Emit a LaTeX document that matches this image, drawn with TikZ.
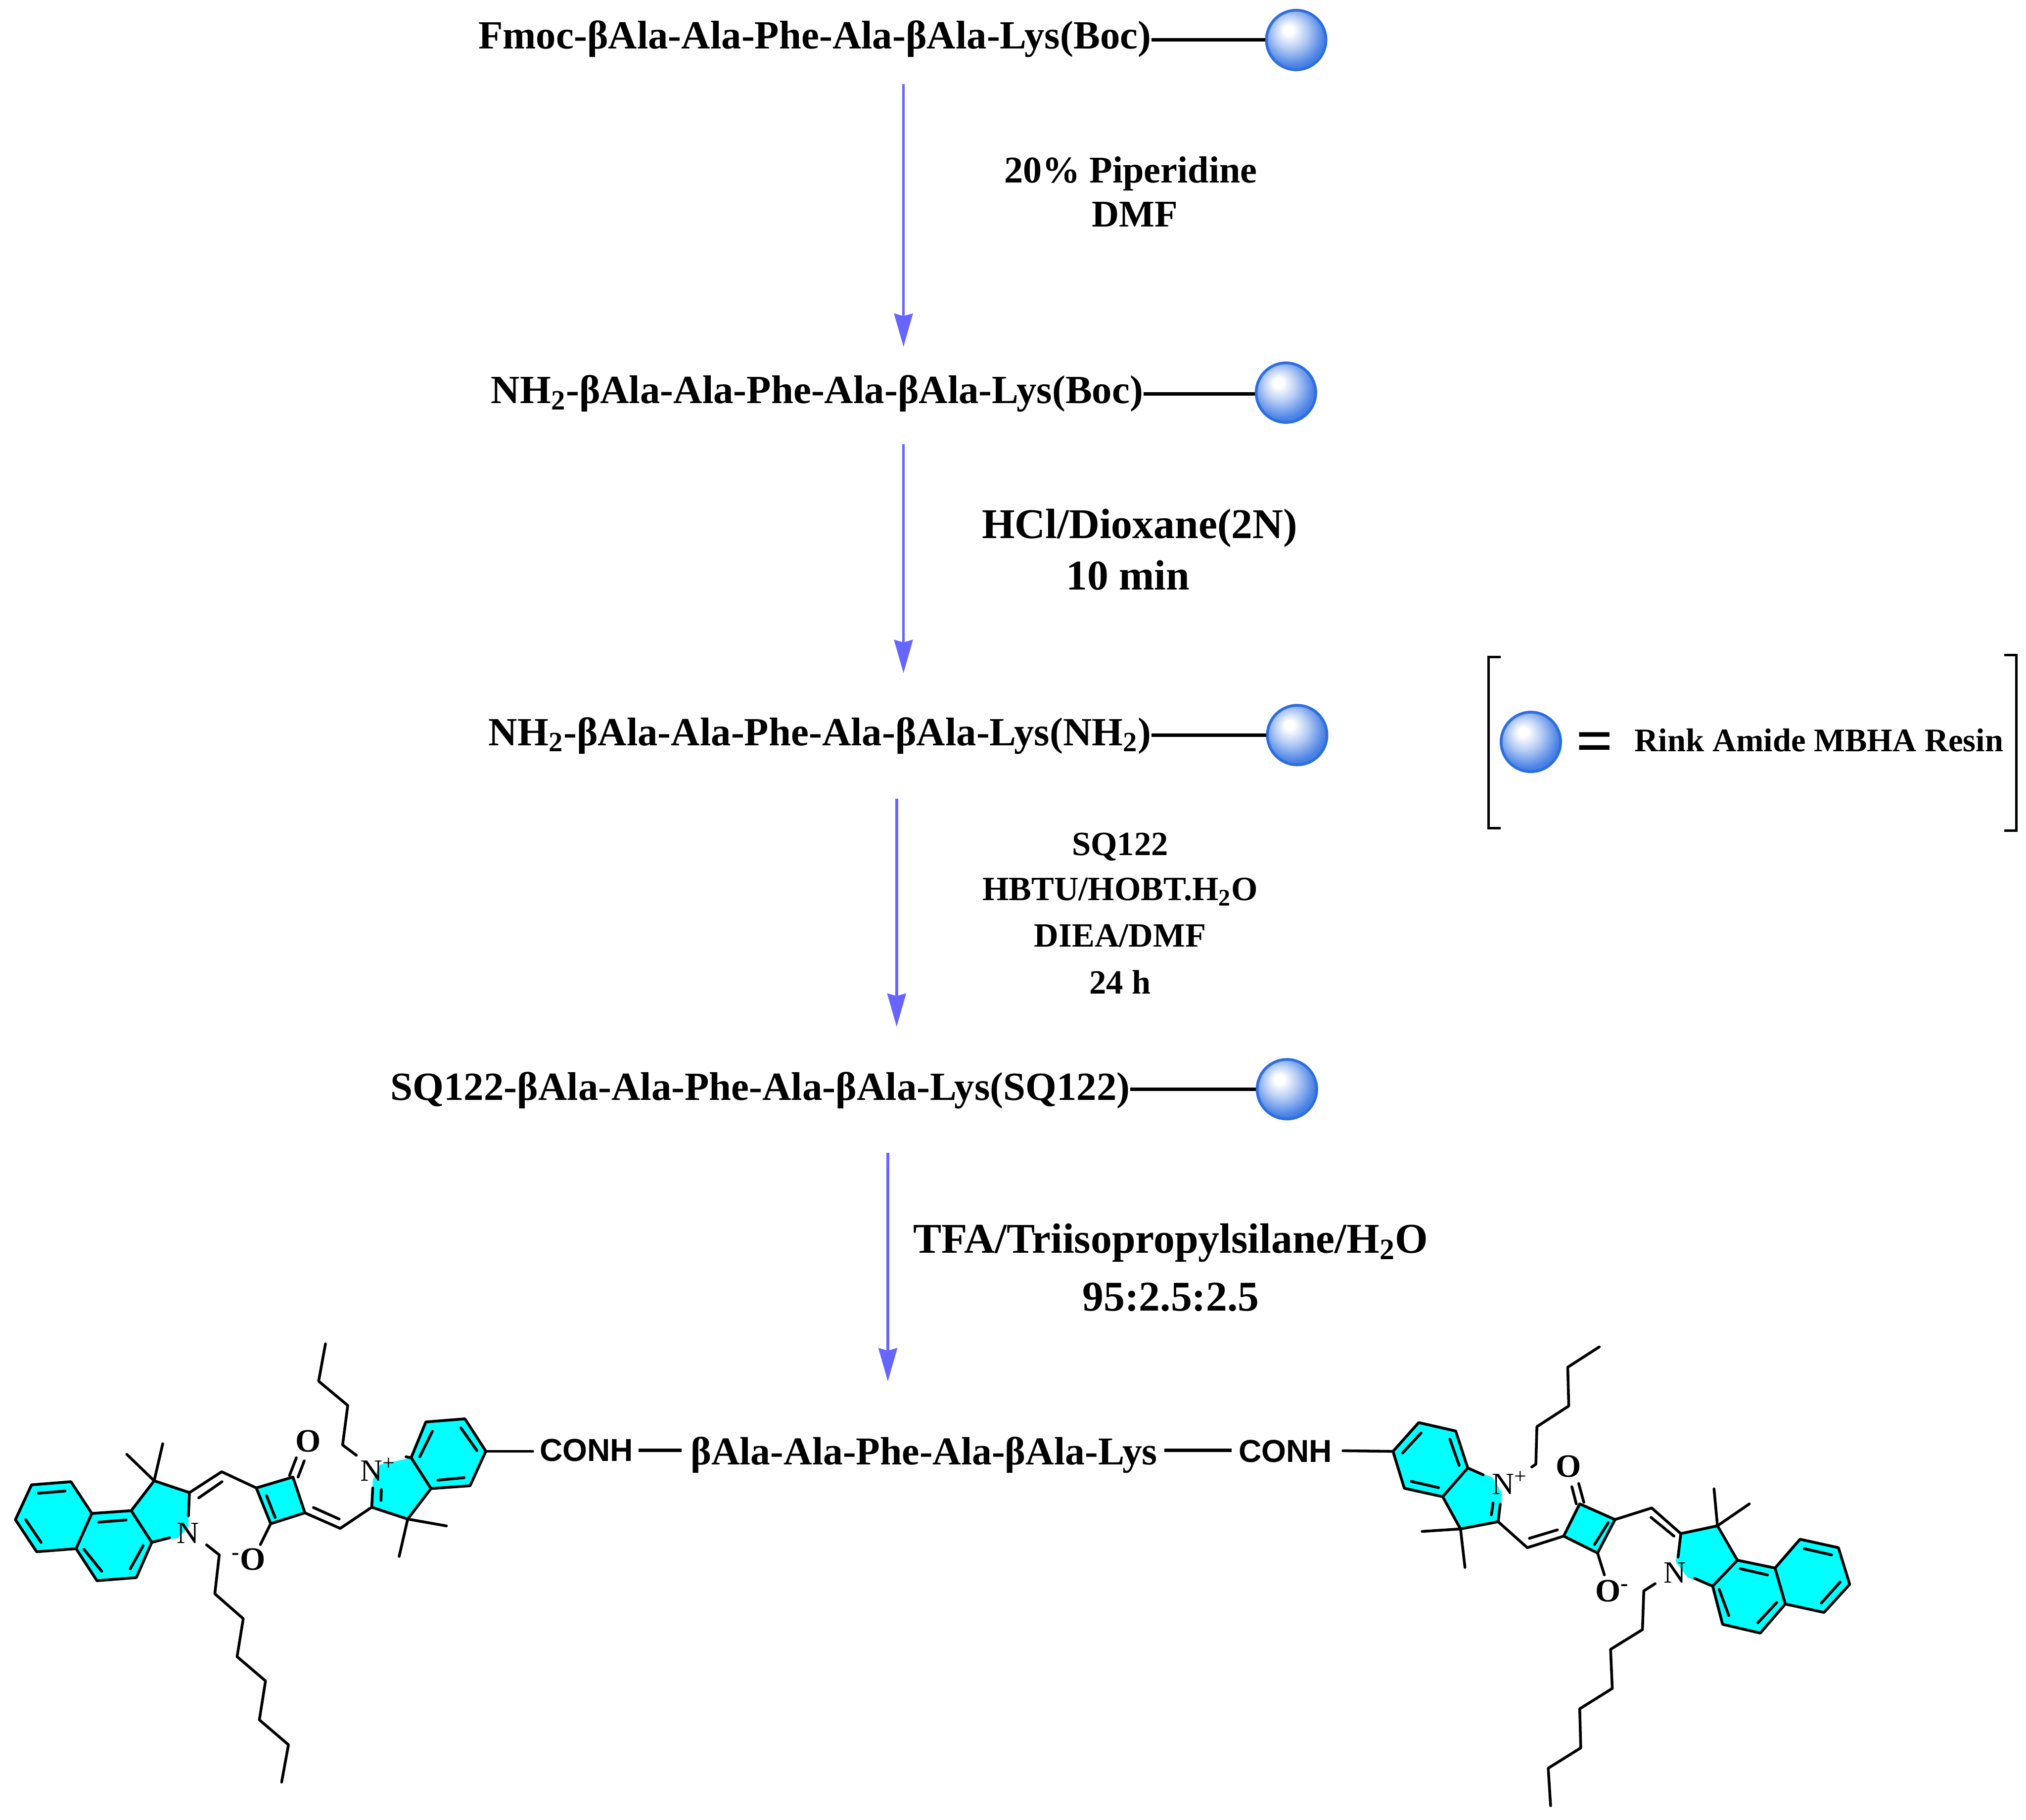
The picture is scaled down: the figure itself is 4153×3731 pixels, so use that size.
\documentclass[tikz,border=0pt]{standalone}
\usepackage{fontspec}
\setmainfont{Liberation Serif}
\setsansfont{Liberation Sans}
\usetikzlibrary{arrows.meta}

\definecolor{dyecyan}{RGB}{0,255,255}
\definecolor{arrowblue}{RGB}{102,102,255}
\definecolor{resinblue}{RGB}{45,110,225}
\pgfdeclareradialshading{resinshade}{\pgfpoint{-7bp}{9bp}}{%
  color(0bp)=(white); color(4bp)=(white); color(14bp)=(white!65!resinblue);
  color(26bp)=(white!15!resinblue); color(34bp)=(resinblue); color(50bp)=(resinblue)}

\tikzset{
  resin/.style={circle, minimum size=1.22cm, inner sep=0pt, shading=resinshade, draw=resinblue, line width=1.6pt},
  chain/.style={font=\bfseries\fontsize{23.3}{23.3}\selectfont, inner sep=0pt, anchor=base west},
  reagent/.style={font=\bfseries\fontsize{22}{22}\selectfont, inner sep=0pt},
  bigreagent/.style={font=\bfseries\fontsize{24.7}{24.7}\selectfont, inner sep=0pt},
  smallreagent/.style={font=\bfseries\fontsize{19.8}{19.8}\selectfont, inner sep=0pt},
  linker/.style={line width=2pt},
  steparrow/.style={draw=arrowblue, line width=1.6pt, -{Stealth[length=0.68cm, width=0.38cm, inset=0.05cm]}},
  bond/.style={line width=1.6pt, line cap=round, line join=round},
  atom/.style={font=\fontsize{18}{18}\selectfont, inner sep=0pt},
  oxygen/.style={font=\bfseries\fontsize{19}{19}\selectfont, inner sep=0pt},
  conh/.style={font=\sffamily\bfseries\fontsize{18.5}{18.5}\selectfont, inner sep=0pt}
}

\begin{document}
\begin{tikzpicture}[x=0.01cm, y=-0.01cm]
  \useasboundingbox (0,0) rectangle (4153,3731);

  % Resin-bound peptide after each step
  \node[chain] (fmoc) at (980,100) {Fmoc-βAla-Ala-Phe-Ala-βAla-Lys(Boc)};
  \node[resin] (balla) at (2657,82) {};
  \node[chain] (boc) at (1006,827) {NH\textsubscript{2}-βAla-Ala-Phe-Ala-βAla-Lys(Boc)};
  \node[resin] (ballb) at (2636,805) {};
  \node[chain] (free) at (1001,1528) {NH\textsubscript{2}-βAla-Ala-Phe-Ala-βAla-Lys(NH\textsubscript{2})};
  \node[resin] (ballc) at (2659,1507) {};
  \node[chain] (dyed) at (800,2255) {SQ122-βAla-Ala-Phe-Ala-βAla-Lys(SQ122)};
  \node[resin] (balld) at (2638,2233) {};

  % Linkers to the resin
  \draw[linker] (fmoc.east |- balla) -- (balla);
  \draw[linker] (boc.east |- 0,808) -- (ballb.west |- 0,808);
  \draw[linker] (free.east |- ballc) -- (ballc);
  \draw[linker] (dyed.east |- balld) -- (balld);

  % Arrows between the steps
  \coordinate (sa) at (1852,172);   \coordinate (ea) at (1852,711);
  \coordinate (sb) at (1852,911);   \coordinate (eb) at (1852,1380);
  \coordinate (sc) at (1838,1637);  \coordinate (ec) at (1838,2105);
  \coordinate (sd) at (1820,2363);  \coordinate (ed) at (1820,2832);
  \draw[steparrow] (sa) -- (ea);
  \draw[steparrow] (sb) -- (eb);
  \draw[steparrow] (sc) -- (ec);
  \draw[steparrow] (sd) -- (ed);

  % Reagents
  \node[reagent] (pip) at (2318,356) {20\% Piperidine};
  \node[reagent] (dmf) at (2326,440) {DMF};
  \node[bigreagent] (hcl) at (2336,1083) {HCl/Dioxane(2N)};
  \node[bigreagent] (min) at (2312,1179) {10 min};
  \node[smallreagent] (sq) at (2296,1736) {SQ122};
  \node[smallreagent] (hbtu) at (2296,1828) {HBTU/HOBT.H\textsubscript{2}O};
  \node[smallreagent] (diea) at (2296,1918) {DIEA/DMF};
  \node[smallreagent] (time) at (2296,2013) {24 h};
  \node[bigreagent] (tfa) at (2400,2548) {TFA/Triisopropylsilane/H\textsubscript{2}O};
  \node[bigreagent] (ratio) at (2400,2659) {95:2.5:2.5};

  % Legend
  \node[resin] (legball) at (3138,1521) {};
  \node[font=\bfseries\fontsize{38}{38}\selectfont, inner sep=0pt] (equals) at (3269,1533) {=};
  \node[font=\bfseries\fontsize{19.2}{19.2}\selectfont, inner sep=0pt, anchor=west] (rink) at (3350,1518) {Rink Amide MBHA Resin};
  \draw[line width=1.5pt] (3076,1347) -- (3051,1347) -- (3051,1698) -- (3076,1698);
  \draw[line width=1.5pt] (4108,1343) -- (4133,1343) -- (4133,1703) -- (4108,1703);

  % Final product, middle part
  \node[conh] (conha) at (1202,2973) {CONH};
  \node[chain, anchor=base, font=\bfseries\fontsize{23}{23}\selectfont] (pep) at (1894,3003) {βAla-Ala-Phe-Ala-βAla-Lys};
  \node[conh] (conhb) at (2635,2975) {CONH};
  \draw[linker, shorten <=3pt, shorten >=5pt] (conha.east |- 0,2973) -- (pep.west |- 0,2973);
  \draw[linker, shorten <=4pt, shorten >=4pt] (pep.east |- 0,2973) -- (conhb.west |- 0,2973);

  % Left dye
  \begin{scope}[x=0.007015cm, y=-0.006378cm, shift={(0,2720*1.568)}]
    \fill[dyecyan] (92,505) -- (207,495) -- (268,597) -- (383,588) -- (450,492) -- (553,530) -- (550,640) -- (520,675) -- (443,690) -- (398,803) -- (283,813) -- (222,710) -- (107,720) -- (45,617) -- cycle;
    \fill[dyecyan] (1085,577) -- (1190,615) -- (1258,517) -- (1372,508) -- (1418,397) -- (1357,293) -- (1243,303) -- (1200,418) -- (1110,440) -- (1088,490) -- cycle;
    \fill[dyecyan] (748,515) -- (855,480) -- (890,595) -- (790,630) -- cycle;

    \node[atom] (nla) at (548,660) {N};
    \node[atom] (nlb) at (1103,455) {N\textsuperscript{+}};
    \node[oxygen] (ola) at (900,365) {O};
    \node[oxygen] (olb) at (725,745) {\textsuperscript{-}O};

    \draw[bond] (92,505) -- (207,495) -- (268,597) -- (222,710) -- (107,720) -- (45,617) -- cycle;
    \draw[bond] (268,597) -- (383,588) -- (443,690) -- (398,803) -- (283,813) -- (222,710);
    \draw[bond] (383,588) -- (450,492) -- (553,530) -- (550,605);
    \draw[bond] (443,690) -- (495,675);
    \draw[bond] (112,532) -- (190,525);
    \draw[bond] (75,617) -- (120,690);
    \draw[bond] (288,625) -- (368,618);
    \draw[bond] (245,712) -- (297,783);
    \draw[bond] (380,775) -- (418,700);
    \draw[bond] (450,492) -- (370,407);
    \draw[bond] (450,492) -- (475,373);
    \draw[bond] (553,530) -- (647,463) -- (748,515);
    \draw[bond] (580,547) -- (648,495);
    \draw[bond] (748,515) -- (855,480) -- (890,595) -- (790,630) -- cycle;
    \draw[bond] (778,540) -- (803,610);
    \draw[bond] (845,475) -- (865,418);
    \draw[bond] (870,480) -- (888,428);
    \draw[bond] (890,595) -- (993,645) -- (1085,577);
    \draw[bond] (915,578) -- (990,615);
    \draw[bond] (790,630) -- (760,697);
    \draw[bond] (603,698) -- (640,730) -- (627,855) -- (710,935) -- (692,1057) -- (775,1135) -- (757,1260) -- (842,1340) -- (822,1460);
    \draw[bond] (1085,577) -- (1190,615) -- (1258,517) -- (1200,418) -- (1185,415);
    \draw[bond] (1085,577) -- (1088,515);
    \draw[bond] (1113,520) -- (1112,555);
    \draw[bond] (1200,418) -- (1243,303) -- (1357,293) -- (1418,397) -- (1372,508) -- (1258,517);
    \draw[bond] (1225,415) -- (1262,333);
    \draw[bond] (1345,322) -- (1392,395);
    \draw[bond] (1355,482) -- (1278,490);
    \draw[bond] (1418,397) -- (1555,397);
    \draw[bond] (1190,615) -- (1303,637);
    \draw[bond] (1190,615) -- (1165,735);
    \draw[bond] (1040,410) -- (1000,377) -- (1015,250) -- (930,172) -- (950,52);
  \end{scope}

  % Right dye
  \begin{scope}[x=0.007015cm, y=-0.00641cm, shift={(2747*1.4255,2720*1.56)}]
    \fill[dyecyan] (150,397) -- (225,305) -- (333,332) -- (368,450) -- (440,480) -- (468,530) -- (457,622) -- (347,645) -- (295,542) -- (183,515) -- cycle;
    \fill[dyecyan] (648,668) -- (695,565) -- (798,615) -- (747,722) -- cycle;
    \fill[dyecyan] (990,660) -- (1097,635) -- (1155,745) -- (1265,770) -- (1338,678) -- (1450,705) -- (1483,822) -- (1408,912) -- (1295,885) -- (1222,978) -- (1112,950) -- (1083,828) -- (1010,800) -- (975,750) -- cycle;

    \node[atom] (nra) at (490,497) {N\textsuperscript{+}};
    \node[atom] (nrb) at (972,785) {N};
    \node[oxygen] (ora) at (662,445) {O};
    \node[oxygen] (orb) at (790,843) {O\textsuperscript{-}};

    \draw[bond] (150,397) -- (225,305) -- (333,332) -- (368,450) -- (295,542) -- (183,515) -- cycle;
    \draw[bond] (178,402) -- (232,338);
    \draw[bond] (316,358) -- (343,442);
    \draw[bond] (203,493) -- (283,513);
    \draw[bond] (4,395) -- (150,397);
    \draw[bond] (368,450) -- (413,472);
    \draw[bond] (295,542) -- (347,645) -- (457,622) -- (463,565);
    \draw[bond] (437,600) -- (442,562);
    \draw[bond] (347,645) -- (235,653);
    \draw[bond] (347,645) -- (360,768);
    \draw[bond] (555,447) -- (567,438) -- (570,318) -- (663,252) -- (660,128) -- (752,63);
    \draw[bond] (457,622) -- (542,705) -- (648,668);
    \draw[bond] (548,675) -- (630,648);
    \draw[bond] (648,668) -- (695,565) -- (798,615) -- (747,722) -- cycle;
    \draw[bond] (738,695) -- (778,625);
    \draw[bond] (707,560) -- (692,500);
    \draw[bond] (685,565) -- (672,510);
    \draw[bond] (798,615) -- (905,578) -- (990,660);
    \draw[bond] (903,608) -- (970,668);
    \draw[bond] (990,660) -- (1097,635) -- (1155,745) -- (1083,828);
    \draw[bond] (990,660) -- (982,735);
    \draw[bond] (1083,828) -- (1030,803);
    \draw[bond] (1097,635) -- (1087,517);
    \draw[bond] (1097,635) -- (1190,565);
    \draw[bond] (1155,745) -- (1265,770) -- (1295,885) -- (1222,978) -- (1112,950) -- (1083,828);
    \draw[bond] (1163,772) -- (1243,792);
    \draw[bond] (1270,880) -- (1215,945);
    \draw[bond] (1130,922) -- (1102,838);
    \draw[bond] (1265,770) -- (1338,678) -- (1450,705) -- (1483,822) -- (1408,912) -- (1295,885);
    \draw[bond] (1350,708) -- (1430,728);
    \draw[bond] (1455,815) -- (1400,882);
    \draw[bond] (747,722) -- (767,792);
    \draw[bond] (915,820) -- (882,843) -- (878,967) -- (785,1030) -- (790,1155) -- (695,1220) -- (698,1345) -- (603,1410) -- (610,1530);
  \end{scope}
\end{tikzpicture}
\end{document}
